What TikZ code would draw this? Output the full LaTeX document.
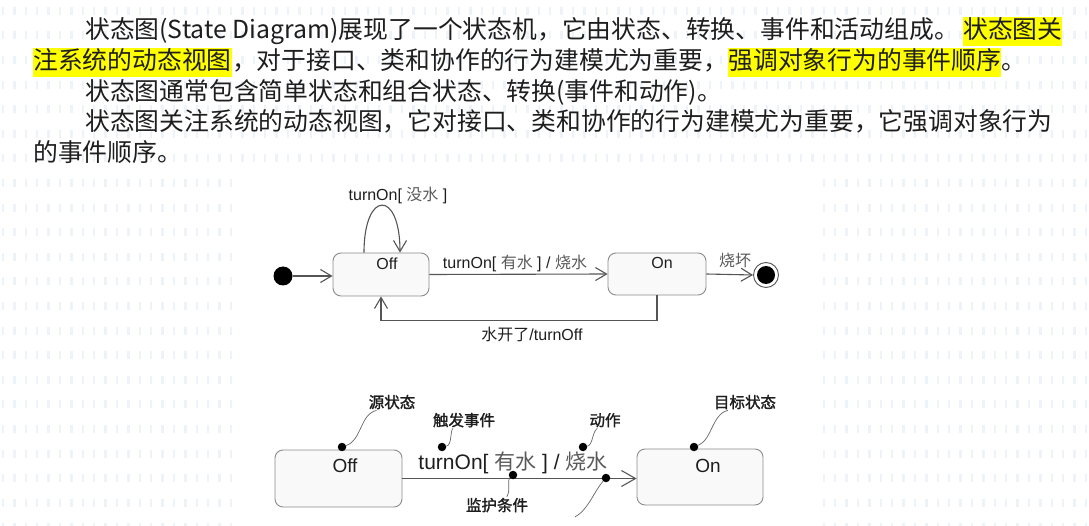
\documentclass[tikz,border=0pt]{standalone}
\usepackage{fontspec}
\setmainfont{Liberation Sans}
\newfontfamily\cjk{Noto Sans CJK SC}
\newfontfamily\cjkb[FakeBold=1.6]{Noto Sans CJK SC}
\usetikzlibrary{arrows.meta}
\definecolor{hly}{HTML}{FFFF00}
\definecolor{dotc}{HTML}{EEF2F9}
\definecolor{linec}{HTML}{555555}
\definecolor{boxfill}{HTML}{F9F9F9}
\definecolor{boxline}{HTML}{8C8C8C}
\definecolor{cjkgray}{HTML}{5A5A5A}
\definecolor{txt}{HTML}{1E1E1E}
\tikzset{
  para/.style={inner sep=0pt, anchor=base west, text=txt, font=\cjk\fontsize{24.8}{30}\selectfont},
  hl/.style={para, fill=hly, text height=22pt, text depth=7pt},
  stbox/.style={draw=boxline, fill=boxfill, rounded corners=8pt, line width=0.9pt, inner sep=0pt},
  stname/.style={inner sep=0pt, anchor=base, text=txt, font=\fontsize{16}{19}\selectfont},
  stnamebig/.style={inner sep=0pt, anchor=base, text=txt, font=\fontsize{19}{22}\selectfont},
  lbl/.style={inner sep=0pt, anchor=base, text=txt, font=\fontsize{16}{19}\selectfont},
  lblbig/.style={inner sep=0pt, anchor=base, text=txt, font=\fontsize{21}{24}\selectfont},
  note/.style={inner sep=1pt, anchor=base, text=txt, font=\cjkb\fontsize{15.5}{18}\selectfont},
  conn/.style={draw=linec, line width=1.1pt},
  openhead/.style={-{Straight Barb[length=11pt,width=13pt,line width=1.1pt]}},
  openheadbig/.style={-{Straight Barb[length=14pt,width=16pt,line width=1.1pt]}},
  bullet/.style={circle, fill=black, inner sep=0pt, minimum size=8.5pt},
  lead/.style={draw=linec!90, line width=0.7pt},
}
\newcommand{\cg}[1]{{\cjk\color{cjkgray}#1}}
\begin{document}
\begin{tikzpicture}[x=1pt,y=-1pt]
\useasboundingbox (0,0) rectangle (1089,526);
\fill[white] (0,0) rectangle (1089,526);
% background dash pattern
\foreach \r in {0,...,21}{
  \foreach \c in {0,...,95}{
    \fill[dotc] ({1.8+\c*11.4},{6.8+\r*24.6}) rectangle ++(2.4,8);
  }
}
% white picture area
\fill[white] (237,176) rectangle (815,526);

% ---------- paragraph text ----------
\node[para] (l1a) at (85,39) {状态图(State Diagram)展现了一个状态机，它由状态、转换、事件和活动组成。};
\node[hl] (l1b) at ([xshift=4pt]l1a.base east) {状态图关};
\node[hl] (l2a) at (33,70) {注系统的动态视图};
\node[para] (l2b) at (l2a.base east) {，对于接口、类和协作的行为建模尤为重要，};
\node[hl] (l2c) at (l2b.base east) {强调对象行为的事件顺序};
\node[para] (l2d) at (l2c.base east) {。};
\node[para] (l3) at (85,101) {状态图通常包含简单状态和组合状态、转换(事件和动作)。};
\node[para] (l4) at (85,131) {状态图关注系统的动态视图，它对接口、类和协作的行为建模尤为重要，它强调对象行为};
\node[para] (l5) at (33,162) {的事件顺序。};

% ---------- top state diagram ----------
\node[circle, fill=black, inner sep=0pt, minimum size=19pt] (init) at (283,276) {};
\node[stbox, minimum width=96pt, minimum height=43pt] (off) at (381,274.5) {};
\node[stname] (offt) at (387,270) {Off};
\node[stbox, minimum width=98pt, minimum height=42pt] (on) at (657,274) {};
\node[stname] (ont) at (662,269) {On};
\node[circle, draw=linec, line width=0.9pt, fill=white, inner sep=0pt, minimum size=25pt] (fin) at (766,275) {};
\node[circle, fill=black, inner sep=0pt, minimum size=18pt] (finin) at (fin) {};

\draw[conn, openhead] (init) -- (init -| off.west);
\draw[conn, openhead] ([xshift=-17pt]off.north) .. controls +(0,-63) and +(0,-63) .. ([xshift=19pt]off.north);
\draw[conn, openhead] (off.east) -- (on.west);
\draw[conn, openhead] (on.east) -- (fin.west);
\draw[conn, openhead] (on.south) -- ++(0,25) -| (off.south);

\node[lbl] (lloop) at (398,201) {turnOn[ \cg{没水} ]};
\node[lbl] (lgo) at (515,269) {turnOn[ \cg{有水} ] / \cg{烧水}};
\node[lbl] (lburn) at (735,267) {\cg{烧坏}};
\node[lbl] (lback) at (532,341) {{\cjk 水开了}/turnOff};

% ---------- bottom annotated transition ----------
\node[stbox, minimum width=127pt, minimum height=57pt] (off2) at (338.5,478.5) {};
\node[stnamebig] (off2t) at (345,472) {Off};
\node[stbox, minimum width=126pt, minimum height=56pt] (on2) at (700,477) {};
\node[stnamebig] (on2t) at (708,472) {On};
\draw[conn, openheadbig] (off2.east) -- (off2.east -| on2.west);
\node[lblbig] (lgo2) at (513,469) {turnOn[ \cg{有水} ] / \cg{烧水}};

\node[bullet] (d1) at (342,447) {};
\node[bullet] (d2) at (442,447) {};
\node[bullet] (d3) at (513,475) {};
\node[bullet] (d4) at (583,447) {};
\node[bullet] (d5) at (694,447) {};
\node[bullet] (d6) at (606,478) {};

\node[note] (src) at (392,408) {源状态};
\node[note] (trig) at (464,426) {触发事件};
\node[note] (guard) at (497,511) {监护条件};
\node[note] (act) at (605,426) {动作};
\node[note] (tgt) at (745,408) {目标状态};
\coordinate (d6end) at (575,517);

\draw[lead] (d1) .. controls (362,440) and (360,414) .. ([xshift=9pt]src.south west);
\draw[lead] (d2) .. controls (452,445) and (450,432) .. ([xshift=21pt]trig.south west);
\draw[lead] (d3) .. controls (507,480) and (511,490) .. ([xshift=42pt]guard.north west);
\draw[lead] (d4) .. controls (593,445) and (592,432) .. ([xshift=9pt]act.south west);
\draw[lead] (d5) .. controls (712,440) and (712,414) .. ([xshift=15pt]tgt.south west);
\draw[lead] (d6) .. controls (595,490) and (588,510) .. (d6end);
\end{tikzpicture}
\end{document}
